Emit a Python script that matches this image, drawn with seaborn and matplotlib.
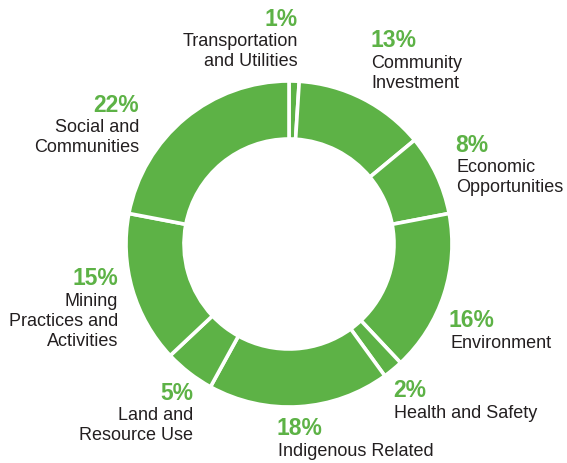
import matplotlib
matplotlib.use("Agg")
import matplotlib.pyplot as plt
import seaborn as sns

# Share of topics raised, clockwise from the top
categories = [
    "Transportation\nand Utilities",
    "Community\nInvestment",
    "Economic\nOpportunities",
    "Environment",
    "Health and Safety",
    "Indigenous Related",
    "Land and\nResource Use",
    "Mining\nPractices and\nActivities",
    "Social and\nCommunities",
]
shares = [1, 13, 8, 16, 2, 18, 5, 15, 22]

# Label anchor (x, baseline of the percentage) in pixels from the top-left, and alignment
label_x = [298, 370, 455, 449, 393, 277, 193, 118, 139]
label_y = [26, 47, 152, 327, 397, 435, 400, 285, 112]
label_ha = ["right", "left", "left", "left", "left", "left", "right", "right", "right"]

GREEN = "#5db246"
DARK = "#231f20"
W, H = 567, 463

sns.set_theme(style="white")
plt.rcParams["font.family"] = ["Liberation Sans", "DejaVu Sans"]

fig = plt.figure(figsize=(W / 100, H / 100), dpi=100)
ax = fig.add_axes([0, 0, 1, 1])
ax.set_xlim(0, W)
ax.set_ylim(0, H)
ax.set_aspect("equal")
ax.axis("off")

ax.pie(
    shares,
    colors=[GREEN] * len(shares),
    startangle=90,
    counterclock=False,
    center=(289, H - 244),
    radius=163,
    wedgeprops=dict(width=58, edgecolor="white", linewidth=2.6),
    frame=True,
)
ax.set_xlim(0, W)
ax.set_ylim(0, H)
ax.axis("off")

for name, val, x, y, ha in zip(categories, shares, label_x, label_y, label_ha):
    ax.text(x, H - y, f"{val}%", ha=ha, va="baseline", color=GREEN,
            fontsize=16.5, fontweight="bold")
    for i, line in enumerate(name.split("\n")):
        ax.text(x + (1 if ha == "left" else 0), H - (y + 20.5 + 20 * i), line,
                ha=ha, va="baseline", color=DARK, fontsize=13)

fig.savefig("out.png", dpi=100)
